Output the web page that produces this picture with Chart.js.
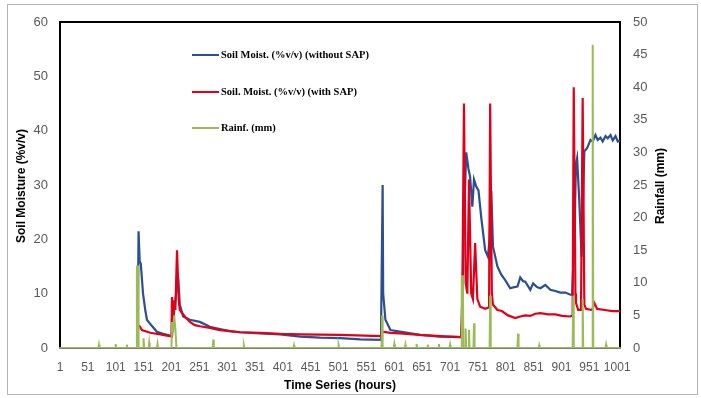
<!DOCTYPE html>
<html><head><meta charset="utf-8">
<script src="https://cdn.jsdelivr.net/npm/chart.js@4"></script>
<style>
html,body{margin:0;padding:0;background:#fff;}
#wrap{position:relative;width:701px;height:398px;overflow:hidden;}
#frame{position:absolute;left:7px;top:4px;width:691px;height:391px;border:1px solid #b4b4b4;box-sizing:border-box;pointer-events:none;}
canvas{position:absolute;left:0;top:0;}
</style></head><body>
<div id="wrap"><canvas id="c" width="701" height="398"></canvas><div id="frame"></div></div>
<script>
// ---- data ----
const hourTicks = [1, 51, 101, 151, 201, 251, 301, 351, 401, 451, 501, 551, 601, 651, 701, 751, 801, 851, 901, 951, 1001];

const legendLabels = ["Soil Moist. (%v/v) (without SAP)", "Soil. Moist. (%v/v) (with SAP)", "Rainf. (mm)"];

const noSapHours  = [140, 142, 144, 146, 150, 154, 157, 163, 175, 186, 198, 202, 206, 213, 216, 222, 234, 252, 270, 288, 306, 324, 360, 396, 432, 468, 504, 540, 577, 580, 581, 585, 594, 611, 647, 683, 721, 723, 725, 730, 734, 737, 741, 744, 748, 752, 757, 764, 769, 772, 775, 778, 786, 793, 800, 809, 816, 822, 827, 832, 836, 845, 850, 857, 863, 872, 881, 890, 899, 908, 917, 920, 924, 927, 929, 933, 937, 940, 942, 947, 953, 957, 962, 966, 971, 975, 980, 984, 989, 993, 998, 1002, 1006];
const noSapValues = [0.3, 21.5, 16, 15.5, 10, 7, 5.2, 4.4, 3.0, 2.6, 2.3, 2.2, 7, 13, 8, 5.8, 5.2, 4.8, 3.9, 3.5, 3.1, 2.9, 2.7, 2.5, 2.1, 1.9, 1.8, 1.6, 1.5, 30, 10, 5.2, 3.3, 3.0, 2.4, 2.1, 2.0, 6, 20, 36, 33, 31.5, 26, 31, 29.7, 29, 24, 18, 16.8, 20, 29, 18.7, 15, 13.5, 12.5, 11, 11.2, 11.3, 13, 12.3, 12.2, 10.7, 11.9, 11.2, 11, 11.6, 10.7, 10.5, 10.2, 10.2, 9.8, 9.8, 20, 34, 35, 27, 16.8, 28, 36.2, 36.8, 38.3, 38, 39.2, 38.3, 38.7, 38, 39, 38.6, 39.2, 38.2, 39, 38, 38.2];

const withSapHours  = [140, 141, 144, 148, 163, 181, 198, 201, 202, 204, 206, 208, 211, 214, 216, 225, 234, 243, 252, 270, 288, 324, 360, 396, 432, 504, 576, 580, 594, 611, 647, 683, 721, 723, 726, 729, 732, 735, 739, 742, 746, 750, 755, 764, 771, 773, 776, 778, 786, 794, 805, 818, 827, 836, 845, 854, 863, 877, 890, 902, 917, 921, 923, 926, 927, 931, 936, 939, 942, 945, 956, 960, 965, 979, 992, 1006];
const withSapValues = [0.3, 4.2, 4, 3.3, 2.8, 2.5, 2.2, 2.1, 9.4, 5, 8.8, 7, 18, 9, 7, 5.8, 4.8, 4.2, 4, 3.7, 3.3, 2.9, 2.8, 2.6, 2.5, 2.4, 2.2, 3, 2.8, 2.7, 2.4, 2.2, 2.0, 10, 45, 12, 10, 31, 10, 9, 19.3, 9, 7.6, 7.2, 7.5, 45, 10, 8, 7, 6.8, 6, 5.5, 5.8, 6, 5.9, 6.3, 6.4, 6.2, 6.2, 5.9, 5.8, 6, 48, 10, 8.3, 7, 7, 46, 8, 7.2, 7, 8.3, 7.2, 7, 6.8, 6.8];

const rainHours  = [1, 70, 71, 72, 100, 101, 102, 120, 121, 122, 138, 139, 141, 142, 150, 151, 152, 160, 161, 162, 175, 176, 177, 201, 202, 204, 206, 208, 210, 275, 276, 277, 330, 331, 332, 420, 421, 422, 500, 501, 502, 578, 579, 580, 600, 601, 602, 620, 621, 622, 640, 641, 642, 660, 661, 662, 680, 681, 682, 700, 701, 702, 721, 722, 724, 725, 728, 729, 730, 734, 735, 736, 743, 744, 745, 772, 773, 774, 822, 823, 824, 860, 861, 862, 921, 922, 923, 938, 939, 940, 956, 957, 958, 980, 981, 982, 1006];
const rainValues = [0, 0, 0.5, 0, 0, 0.6, 0, 0, 0.5, 0, 0, 12.5, 12.5, 0, 0, 1.5, 0, 0, 0.8, 0, 0, 0.6, 0, 0, 4, 2.5, 5, 3, 0, 0, 1.3, 0, 0, 0.4, 0, 0, 0.4, 0, 0, 0.4, 0, 0, 5, 0, 0, 0.6, 0, 0, 0.5, 0, 0, 0.6, 0, 0, 0.5, 0, 0, 0.6, 0, 0, 0.5, 0, 0, 11, 11, 0, 0, 3, 0, 0, 2.8, 0, 0, 3.8, 0, 0, 8, 0, 0, 2.2, 0, 0, 0.4, 0, 0, 8, 0, 0, 7.5, 0, 0, 46.5, 0, 0, 0.5, 0, 0];

// ---- styles ----
const BLUE = '#2C4F8F', RED = '#E0001A', GREEN = '#9BBB59';
const TICK_COLOR = '#595959';

function toXY(xs, ys) { return xs.map((x, i) => ({ x: x, y: ys[i] })); }

const framePlugin = {
  id: 'frame',
  beforeDatasetsDraw(chart) {
    const a = chart.chartArea, ctx = chart.ctx;
    ctx.save();
    ctx.lineWidth = 2;
    ctx.strokeStyle = '#000';
    ctx.beginPath();
    ctx.moveTo(a.left, a.bottom); ctx.lineTo(a.left, a.top); ctx.lineTo(a.right, a.top); ctx.lineTo(a.right, a.bottom);
    ctx.stroke();
    ctx.strokeStyle = '#7f7f7f';
    ctx.beginPath(); ctx.moveTo(a.left - 1, a.bottom); ctx.lineTo(a.right + 1, a.bottom); ctx.stroke();
    ctx.restore();
  }
};

const textPlugin = {
  id: 'texts',
  afterDraw(chart) {
    const ctx = chart.ctx, a = chart.chartArea;
    ctx.save();
    // legend
    const legendColors = [BLUE, RED, GREEN];
    const rows = [55, 92, 128];
    ctx.font = 'bold 10.5px "Liberation Serif"';
    ctx.textBaseline = 'middle';
    ctx.textAlign = 'left';
    legendLabels.forEach((t, i) => {
      ctx.strokeStyle = legendColors[i];
      ctx.lineWidth = 2;
      ctx.beginPath(); ctx.moveTo(192, rows[i]); ctx.lineTo(219, rows[i]); ctx.stroke();
      ctx.fillStyle = '#000';
      ctx.fillText(t, 221, rows[i]);
    });
    // axis titles
    ctx.font = 'bold 12px "Liberation Sans"';
    ctx.fillStyle = '#000';
    ctx.textAlign = 'center';
    ctx.textBaseline = 'middle';
    ctx.fillText('Time Series (hours)', (a.left + a.right) / 2, 386);
    ctx.save(); ctx.translate(22, 186); ctx.rotate(-Math.PI / 2); ctx.fillText('Soil Moisture (%v/v)', 0, 0); ctx.restore();
    ctx.save(); ctx.translate(661, 186); ctx.rotate(-Math.PI / 2); ctx.fillText('Rainfall (mm)', 0, 0); ctx.restore();
    ctx.restore();
  }
};

const tickFont = { family: 'Liberation Sans', size: 13 };

new Chart(document.getElementById('c'), {
  type: 'line',
  data: {
    datasets: [
      { label: legendLabels[2], data: toXY(rainHours, rainValues), yAxisID: 'y1', borderColor: GREEN, borderWidth: 2, order: 0 },
      { label: legendLabels[1], data: toXY(withSapHours, withSapValues), yAxisID: 'y', borderColor: RED, borderWidth: 2.2, order: 1 },
      { label: legendLabels[0], data: toXY(noSapHours, noSapValues), yAxisID: 'y', borderColor: BLUE, borderWidth: 2.2, order: 2 }
    ]
  },
  options: {
    responsive: false,
    animation: false,
    devicePixelRatio: 1,
    elements: { point: { radius: 0 }, line: { tension: 0, fill: false } },
    layout: { padding: { top: 22, left: 0, right: 0, bottom: 0 } },
    plugins: { legend: { display: false }, tooltip: { enabled: false } },
    scales: {
      x: {
        type: 'linear', min: 1, max: 1006,
        grid: { display: false, drawTicks: false },
        border: { display: false },
        afterBuildTicks: s => { s.ticks = hourTicks.map(v => ({ value: v })); },
        afterFit: s => { s.height = 50; },
        ticks: { autoSkip: false, maxRotation: 0, minRotation: 0, padding: 12, color: TICK_COLOR,
                 font: { family: 'Liberation Sans', size: 12 }, callback: v => String(v) }
      },
      y: {
        position: 'left', min: 0, max: 60,
        grid: { display: false, drawTicks: false },
        border: { display: false },
        afterFit: s => { s.width = 60; },
        ticks: { stepSize: 10, padding: 12, color: TICK_COLOR, font: tickFont }
      },
      y1: {
        position: 'right', min: 0, max: 50,
        grid: { display: false, drawTicks: false },
        border: { display: false },
        afterFit: s => { s.width = 81; },
        ticks: { stepSize: 5, padding: 13, color: TICK_COLOR, font: tickFont }
      }
    }
  },
  plugins: [framePlugin, textPlugin]
});
</script>
</body></html>
